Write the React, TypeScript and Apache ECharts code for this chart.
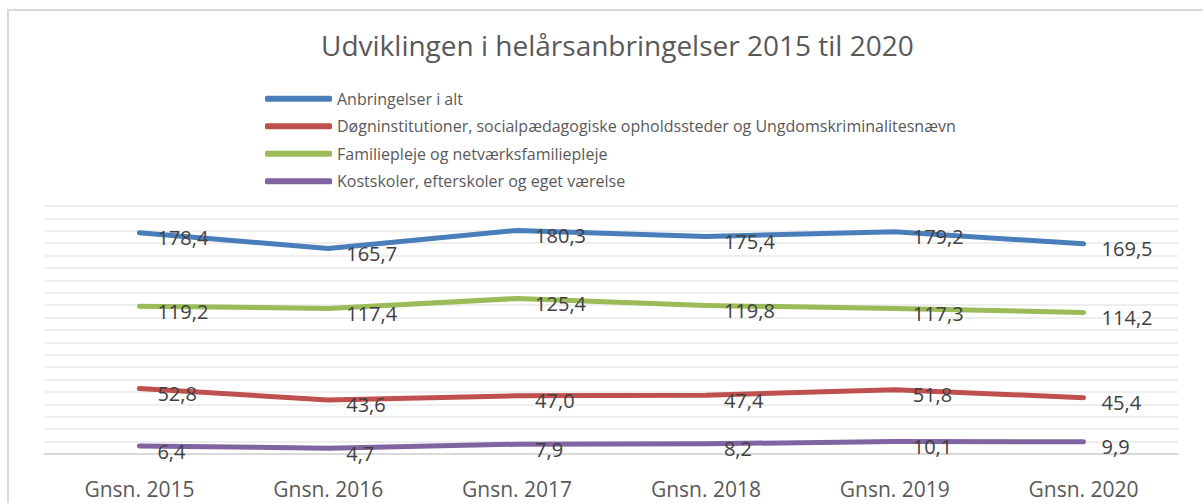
import React, { useEffect, useRef } from "react";
import * as echarts from "echarts";

const categories = ["Gnsn. 2015", "Gnsn. 2016", "Gnsn. 2017", "Gnsn. 2018", "Gnsn. 2019", "Gnsn. 2020"];
const seriesNames = [
  "Anbringelser i alt",
  "Døgninstitutioner, socialpædagogiske opholdssteder og Ungdomskriminalitesnævn",
  "Familiepleje og netværksfamiliepleje",
  "Kostskoler, efterskoler og eget værelse",
];
const anbringelser = [178.4, 165.7, 180.3, 175.4, 179.2, 169.5];
const doegn = [52.8, 43.6, 47.0, 47.4, 51.8, 45.4];
const familie = [119.2, 117.4, 125.4, 119.8, 117.3, 114.2];
const kostskoler = [6.4, 4.7, 7.9, 8.2, 10.1, 9.9];
const colors = ["#4a7ebb", "#c0504d", "#9bbb59", "#8064a2"];
const title = "Udviklingen i helårsanbringelser 2015 til 2020";

const FONT = "'Open Sans', 'Noto Sans', sans-serif";

export default function App() {
  const ref = useRef<HTMLDivElement>(null);
  useEffect(() => {
    document.body.style.margin = "0";
    const chart = echarts.init(ref.current!, null, { renderer: "svg" });
    const data = [anbringelser, doegn, familie, kostskoler];
    chart.setOption({
      animation: false,
      backgroundColor: "#ffffff",
      title: {
        text: title,
        left: 316,
        top: 26,
        textStyle: { fontFamily: FONT, fontSize: 28, fontWeight: "normal", color: "#595959" },
      },
      graphic: [
        {
          type: "rect",
          shape: { x: 8, y: 10, width: 1300, height: 600 },
          style: { fill: "none", stroke: "#d9d9d9", lineWidth: 2 },
          silent: true,
          z: -1,
        },
      ],
      legend: {
        orient: "vertical",
        left: 260,
        top: 83.5,
        icon: "roundRect",
        itemWidth: 67,
        itemHeight: 6,
        itemGap: 7,
        textStyle: { fontFamily: FONT, fontSize: 16, color: "#595959", lineHeight: 20.5 },
        data: seriesNames,
      },
      grid: { left: 45, right: 25, top: 206, bottom: 49 },
      xAxis: {
        type: "category",
        data: categories,
        boundaryGap: true,
        axisLine: { lineStyle: { color: "#d9d9d9", width: 2 } },
        axisTick: { show: false },
        axisLabel: { fontFamily: FONT, fontSize: 21, color: "#595959", margin: 24 },
      },
      yAxis: {
        type: "value",
        min: 0,
        max: 200,
        interval: 10,
        axisLabel: { show: false },
        axisLine: { show: false },
        axisTick: { show: false },
        splitLine: { lineStyle: { color: "#eeeeee", width: 2 } },
      },
      series: seriesNames.map((name, i) => ({
        name,
        type: "line",
        data: data[i],
        symbol: "circle",
        symbolSize: 2,
        lineStyle: { color: colors[i], width: 5, cap: "round", join: "round" },
        itemStyle: { color: colors[i] },
        label: {
          show: true,
          position: "right",
          distance: 17,
          offset: [0, 5],
          fontFamily: FONT,
          fontSize: 20,
          color: "#404040",
          formatter: (p: any) => Number(p.value).toFixed(1).replace(".", ","),
        },
      })),
    });
    return () => chart.dispose();
  }, []);
  return <div ref={ref} style={{ width: 1203, height: 503 }} />;
}
